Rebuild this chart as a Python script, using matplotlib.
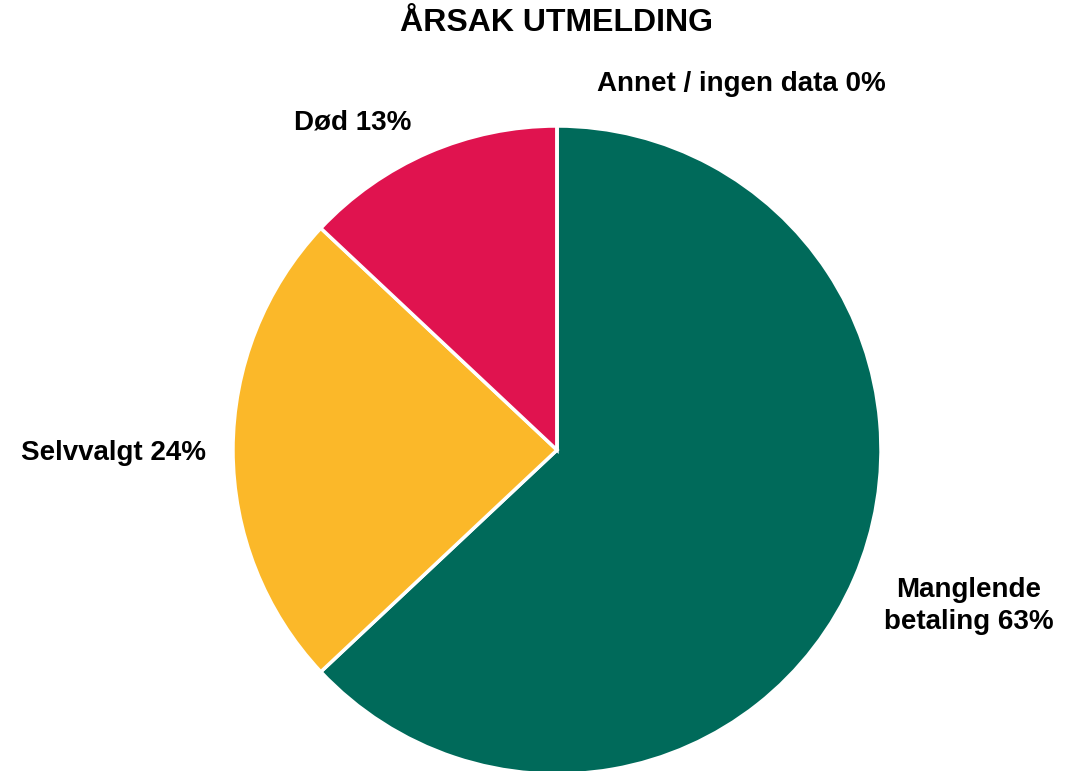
import matplotlib
matplotlib.use("Agg")
import matplotlib.pyplot as plt

plt.rcParams['font.family'] = ['Liberation Sans', 'DejaVu Sans']

# data (clockwise from 12 o'clock)
categories = ["Manglende\nbetaling", "Selvvalgt", "Død", "Annet / ingen data"]
shares = [63, 24, 13, 0]
colors = ["#006A5A", "#FBB829", "#E0134F", "#7F7F7F"]
# label anchor positions, in units of pie radius
label_pos = [(1.27, -0.48), (-1.37, -0.01), (-0.63, 1.01), (0.57, 1.13)]

fig = plt.figure(figsize=(10.78, 7.71), dpi=100)
W, H = 1078, 771
cx, cy, r = 557, 450, 324
ax = fig.add_axes([(cx - r) / W, (H - cy - r) / H, 2 * r / W, 2 * r / H])

ax.pie(shares, colors=colors, startangle=90, counterclock=False,
       wedgeprops=dict(edgecolor="white", linewidth=2.5), radius=1)
ax.set_xlim(-1, 1)
ax.set_ylim(-1, 1)
ax.set_aspect("equal")
ax.axis("off")

for name, val, (x, y) in zip(categories, shares, label_pos):
    ax.text(x, y, f"{name} {val}%", ha="center", va="center",
            fontsize=20, fontweight="bold", clip_on=False, linespacing=1.3)

fig.text(557 / W, 1 - 23 / H, "ÅRSAK UTMELDING", ha="center", va="center",
         fontsize=23, fontweight="bold")

fig.savefig("out.png", dpi=100)
